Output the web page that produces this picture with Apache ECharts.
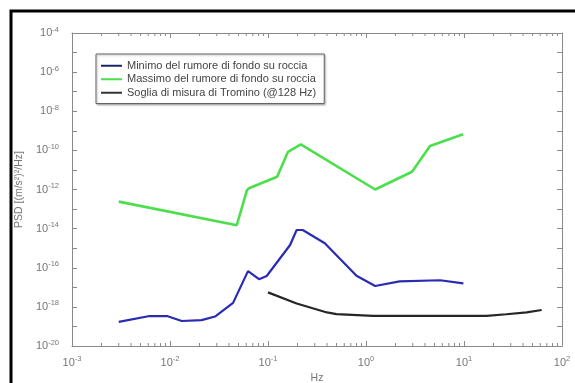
<!DOCTYPE html>
<html>
<head>
<meta charset="utf-8">
<script src="https://cdn.jsdelivr.net/npm/echarts@6/dist/echarts.min.js"></script>
<style>
  html, body { margin: 0; padding: 0; background: #fff; }
  #chart { width: 575px; height: 383px; }
</style>
</head>
<body>
<div id="chart"></div>
<script>
// data
var minFreq = [0.003, 0.0062, 0.0093, 0.0132, 0.021, 0.0288, 0.044, 0.0625, 0.081, 0.097, 0.168, 0.196, 0.226, 0.38, 0.8, 1.24, 2.2, 5.7, 9.85];
var minPsd  = [1.7e-19, 3.4e-19, 3.4e-19, 1.9e-19, 2.1e-19, 3.2e-19, 1.6e-18, 6.7e-17, 2.6e-17, 3.8e-17, 1.45e-15, 8.5e-15, 8.5e-15, 1.8e-15, 3.9e-17, 1.17e-17, 2.0e-17, 2.3e-17, 1.6e-17];

var maxFreq = [0.003, 0.048, 0.061, 0.064, 0.124, 0.16, 0.216, 1.24, 2.95, 4.5, 9.8];
var maxPsd  = [2.4e-13, 1.5e-14, 9.3e-13, 1.15e-12, 4.5e-12, 8.5e-11, 2.0e-10, 1.0e-12, 8.1e-12, 1.66e-10, 6.6e-10];

var tromFreq = [0.1, 0.196, 0.4, 0.5, 1.18, 17, 27, 43.6, 62];
var tromPsd  = [5.5e-18, 1.5e-18, 5.2e-19, 4.3e-19, 3.5e-19, 3.5e-19, 4.2e-19, 5.2e-19, 6.9e-19];

var seriesNames = ['Minimo del rumore di fondo su roccia', 'Massimo del rumore di fondo su roccia', 'Soglia di misura di Tromino (@128 Hz)'];

// log minor ticks on the x axis (2..9 in each decade)
var minorX = [];
[0.001, 0.01, 0.1, 1, 10].forEach(function (d) {
    for (var k = 2; k <= 9; k++) minorX.push(d * k);
});

function pairs(xs, ys) {
    return xs.map(function (x, i) { return [x, ys[i]]; });
}

var axisGrey = '#8a8a8a';
var supLabel = {
    color: '#777',
    fontSize: 11,
    fontFamily: 'Liberation Sans, Arial, sans-serif',
    rich: { s: { fontSize: 7.5, verticalAlign: 'top', padding: [0, 0, 7, 0], color: '#777' } }
};
function expOf(v) { return Math.round(Math.log10(v)); }

var myChart = echarts.init(document.getElementById('chart'));
var option = {
    animation: false,
    textStyle: { fontFamily: 'Liberation Sans, Arial, sans-serif' },
    graphic: [{
        type: 'rect',
        shape: { x: 11, y: 11, width: 600, height: 400 },
        style: { fill: 'none', stroke: '#000', lineWidth: 3 },
        silent: true
    }],
    grid: { left: 72, right: 13, top: 33, bottom: 37, outerBoundsMode: 'none', containLabel: false },
    legend: {
        orient: 'vertical',
        left: 96,
        top: 54,
        padding: [5, 8, 4, 5],
        itemGap: 0,
        itemWidth: 21,
        itemHeight: 2,
        icon: 'rect',
        borderColor: '#666',
        borderWidth: 1,
        backgroundColor: '#fff',
        shadowColor: 'rgba(0,0,0,0.3)',
        shadowBlur: 2,
        shadowOffsetX: 1,
        shadowOffsetY: 1,
        textStyle: { fontSize: 11, lineHeight: 13.5, color: '#444', padding: [0, 0, 0, 0] },
        data: [
            { name: seriesNames[0], itemStyle: { color: '#1f2266' } },
            { name: seriesNames[1], itemStyle: { color: '#4be04b' } },
            { name: seriesNames[2], itemStyle: { color: '#333' } }
        ]
    },
    xAxis: [{
        type: 'log',
        logBase: 10,
        min: 0.001,
        max: 100,
        name: 'Hz',
        nameLocation: 'middle',
        nameGap: 27,
        nameTextStyle: { color: '#777', fontSize: 10.5 },
        axisLine: { lineStyle: { color: axisGrey } },
        axisTick: { inside: true, length: 5, lineStyle: { color: axisGrey } },
        axisLabel: Object.assign({ margin: 9, formatter: function (v) { return '10{s|' + expOf(v) + '}'; } }, supLabel),
        splitLine: { show: false }
    }, {
        type: 'log',
        logBase: 10,
        min: 0.001,
        max: 100,
        position: 'top',
        axisLine: { lineStyle: { color: axisGrey } },
        axisTick: { inside: true, length: 5, lineStyle: { color: axisGrey } },
        axisLabel: { show: false },
        splitLine: { show: false }
    }],
    yAxis: [{
        type: 'log',
        logBase: 10,
        min: 1e-20,
        max: 1e-4,
        interval: 1,
        name: 'PSD [(m/s\u00b2)\u00b2/Hz]',
        nameLocation: 'middle',
        nameRotate: 90,
        nameGap: 36,
        nameTextStyle: { color: '#777', fontSize: 10.5 },
        axisLine: { lineStyle: { color: axisGrey } },
        axisTick: { inside: true, length: 5, lineStyle: { color: axisGrey } },
        axisLabel: Object.assign({
            margin: 13,
            formatter: function (v) {
                var e = expOf(v);
                return (e % 2 === 0) ? '10{s|' + e + '}' : '';
            }
        }, supLabel),
        splitLine: { show: false }
    }, {
        type: 'log',
        logBase: 10,
        min: 1e-20,
        max: 1e-4,
        interval: 1,
        position: 'right',
        axisLine: { lineStyle: { color: axisGrey } },
        axisTick: { inside: true, length: 5, lineStyle: { color: axisGrey } },
        axisLabel: { show: false },
        splitLine: { show: false }
    }],
    series: [{
        name: seriesNames[0],
        type: 'line',
        symbol: 'none',
        lineStyle: { color: '#2a2ab4', width: 2.2 },
        itemStyle: { color: '#1f2266' },
        data: pairs(minFreq, minPsd)
    }, {
        name: seriesNames[1],
        type: 'line',
        symbol: 'none',
        lineStyle: { color: '#4be04b', width: 2.6 },
        itemStyle: { color: '#4be04b' },
        data: pairs(maxFreq, maxPsd)
    }, {
        name: seriesNames[2],
        type: 'line',
        symbol: 'none',
        lineStyle: { color: '#262626', width: 2.2 },
        itemStyle: { color: '#333' },
        data: pairs(tromFreq, tromPsd)
    }, {
        // minor ticks drawn through the axis scale
        type: 'custom',
        silent: true,
        data: minorX,
        renderItem: function (params, api) {
            var b = api.coord([api.value(0), 1e-20]);
            var t = api.coord([api.value(0), 1e-4]);
            return {
                type: 'group',
                children: [
                    { type: 'line', shape: { x1: b[0], y1: b[1], x2: b[0], y2: b[1] - 3 }, style: { stroke: axisGrey, lineWidth: 1 } },
                    { type: 'line', shape: { x1: t[0], y1: t[1], x2: t[0], y2: t[1] + 3 }, style: { stroke: axisGrey, lineWidth: 1 } }
                ]
            };
        }
    }]
};
myChart.setOption(option);
window.onresize = myChart.resize;
</script>
</body>
</html>
